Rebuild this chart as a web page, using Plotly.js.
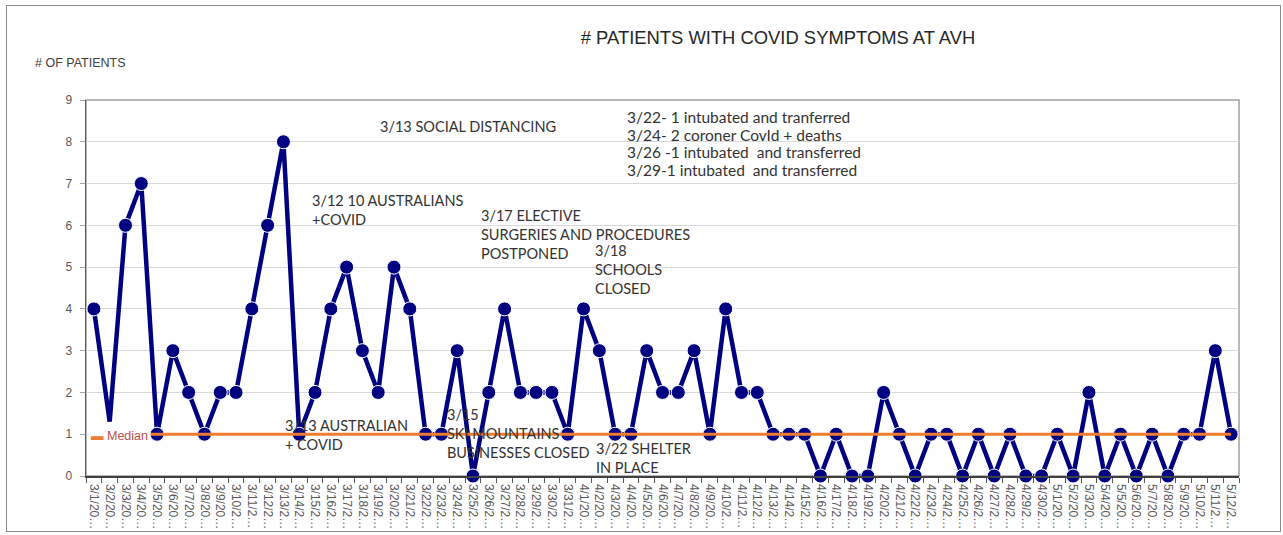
<!DOCTYPE html>
<html><head><meta charset="utf-8">
<script src="https://cdn.plot.ly/plotly-3.0.1.min.js"></script>
<style>
html,body{margin:0;padding:0;background:#fff;}
#wrap{position:relative;width:1283px;height:535px;}
#chart{width:1283px;height:535px;}
#frame{position:absolute;left:6px;top:5px;width:1275px;height:527px;border:1px solid #8c8c8c;pointer-events:none;box-sizing:border-box;}
</style>
</head><body>
<div id="wrap"><div id="chart"></div><div id="frame"></div></div>
<script>
// ---- data ----
const dates = [
  "3/1/2020","3/2/2020","3/3/2020","3/4/2020","3/5/2020","3/6/2020","3/7/2020","3/8/2020","3/9/2020","3/10/2020",
  "3/11/2020","3/12/2020","3/13/2020","3/14/2020","3/15/2020","3/16/2020","3/17/2020","3/18/2020","3/19/2020","3/20/2020",
  "3/21/2020","3/22/2020","3/23/2020","3/24/2020","3/25/2020","3/26/2020","3/27/2020","3/28/2020","3/29/2020","3/30/2020",
  "3/31/2020","4/1/2020","4/2/2020","4/3/2020","4/4/2020","4/5/2020","4/6/2020","4/7/2020","4/8/2020","4/9/2020",
  "4/10/2020","4/11/2020","4/12/2020","4/13/2020","4/14/2020","4/15/2020","4/16/2020","4/17/2020","4/18/2020","4/19/2020",
  "4/20/2020","4/21/2020","4/22/2020","4/23/2020","4/24/2020","4/25/2020","4/26/2020","4/27/2020","4/28/2020","4/29/2020",
  "4/30/2020","5/1/2020","5/2/2020","5/3/2020","5/4/2020","5/5/2020","5/6/2020","5/7/2020","5/8/2020","5/9/2020",
  "5/10/2020","5/11/2020","5/12/2020"
];
const patients = [
  4,1.3,6,7,1,3,2,1,2,2,
  4,6,8,1,2,4,5,3,2,5,
  4,1,1,3,0,2,4,2,2,2,
  1,4,3,1,1,3,2,2,3,1,
  4,2,2,1,1,1,0,1,0,0,
  2,1,0,1,1,0,1,0,1,0,
  0,1,0,2,0,1,0,1,0,1,
  1,3,1
];
const yTicks = [0,1,2,3,4,5,6,7,8,9];
const chartTitle = "# PATIENTS WITH COVID SYMPTOMS AT AVH";
const yTitle = "# OF PATIENTS";
const eventNotes = [
  "3/13 SOCIAL DISTANCING",
  "3/12 10 AUSTRALIANS<br>+COVID",
  "3/17 ELECTIVE<br>SURGERIES AND PROCEDURES<br>POSTPONED",
  "3/18<br>SCHOOLS<br>CLOSED",
  "3/13 AUSTRALIAN<br>+ COVID",
  "3/15<br>SKI MOUNTAINS<br>BUSINESSES CLOSED",
  "3/22 SHELTER<br>IN PLACE"
];
const outcomeNotes = [
  "3/22- 1 intubated and tranferred",
  "3/24- 2 coroner CovId + deaths",
  "3/26 -1 intubated  and transferred",
  "3/29-1 intubated  and transferred"
];

// ---- derived ----
const sorted = patients.slice().sort((a,b)=>a-b);
const medianValue = sorted[Math.floor(sorted.length/2)];
const medianLine = dates.map(()=>medianValue);
const tickText = dates.map(d => d.slice(0,6) + "\u2026");

// plot-area pixel geometry helpers (for text placement only)
const L=86, R=1239, T=100, B=476;
const px = x => (x-L)/(R-L);
const py = y => (B-y)/(B-T);

const eventPos = [[378,126],[310,210],[479,234],[593,269],[283,435],[445,433],[594,457.5]];
const outcomePos = [[625,117],[625,134.5],[625,152],[625,170]];
const capsFont = {family:"Lato, 'Open Sans', sans-serif", size:14.5, color:"#333333"};
const lowerFont = {family:"Lato, 'Open Sans', sans-serif", size:15.5, color:"#333333"};
const annotations = [];
eventNotes.forEach((t,i)=>annotations.push({
  text:t, xref:"paper", yref:"paper", x:px(eventPos[i][0]), y:py(eventPos[i][1]),
  xanchor:"left", yanchor:"middle", align:"left", showarrow:false, font:capsFont
}));
outcomeNotes.forEach((t,i)=>annotations.push({
  text:t, xref:"paper", yref:"paper", x:px(outcomePos[i][0]), y:py(outcomePos[i][1]),
  xanchor:"left", yanchor:"middle", align:"left", showarrow:false, font:lowerFont
}));
annotations.push({
  text:yTitle, xref:"paper", yref:"paper", x:px(33), y:py(63), xanchor:"left", yanchor:"middle",
  showarrow:false, font:{family:"'Liberation Sans', Arial, sans-serif", size:12.5, color:"#404040"}
});
annotations.push({
  text:"<span style='color:#ED7D31'>\u25AC</span> Median", xref:"paper", yref:"paper",
  x:px(88), y:py(436), xanchor:"left", yanchor:"middle", showarrow:false,
  bgcolor:"#ffffff", borderpad:2,
  font:{family:"'Liberation Sans', Arial, sans-serif", size:12.5, color:"#C0504D"}
});

const traces = [
  {
    x:dates, y:patients, type:"scatter", mode:"lines+markers", name:"Patients", showlegend:false,
    line:{color:"#000080", width:4.5},
    marker:{color:"#000080", opacity:1, size:patients.map(v => Number.isInteger(v) ? 14 : 0)},
    cliponaxis:false
  },
  {
    x:dates, y:medianLine, type:"scatter", mode:"lines", name:"Median", showlegend:false,
    line:{color:"#ED7D31", width:3}
  }
];

const layout = {
  width:1283, height:535,
  margin:{l:L, r:1283-R, t:T, b:535-B, pad:0},
  paper_bgcolor:"#ffffff", plot_bgcolor:"#ffffff",
  showlegend:false,
  title:{text:chartTitle, xref:"container", yref:"container", x:778/1283, y:1-38/535,
         xanchor:"center", yanchor:"middle",
         font:{family:"'Liberation Sans', Arial, sans-serif", size:18.4, color:"#262626"}},
  xaxis:{
    type:"category", range:[-0.5, dates.length-0.5], tickmode:"array", tickvals:dates, ticktext:tickText,
    tickangle:90, tickfont:{family:"'Liberation Sans', Arial, sans-serif", size:12, color:"#595959"},
    ticks:"outside", ticklen:5, tickcolor:"#595959", tickson:"boundaries", ticklabelstandoff:4,
    showgrid:false, showline:true, linecolor:"#404040", linewidth:1.5, zeroline:false, fixedrange:true
  },
  yaxis:{
    range:[0,9], tickmode:"array", tickvals:yTicks, ticks:"outside", ticklen:5, tickcolor:"#a6a6a6",
    tickfont:{family:"'Liberation Sans', Arial, sans-serif", size:12, color:"#595959"},
    ticklabelstandoff:5,
    gridcolor:"#d9d9d9", gridwidth:1, showline:true, linecolor:"#595959", linewidth:1.5, zeroline:false, fixedrange:true
  },
  shapes:[{type:"rect", xref:"paper", yref:"paper", x0:0, x1:1, y0:0, y1:1, line:{color:"#a0a0a0", width:1.5}, layer:"below"}],
  annotations:annotations
};

Plotly.newPlot("chart", traces, layout, {displayModeBar:false, staticPlot:true});
</script>
</body></html>
